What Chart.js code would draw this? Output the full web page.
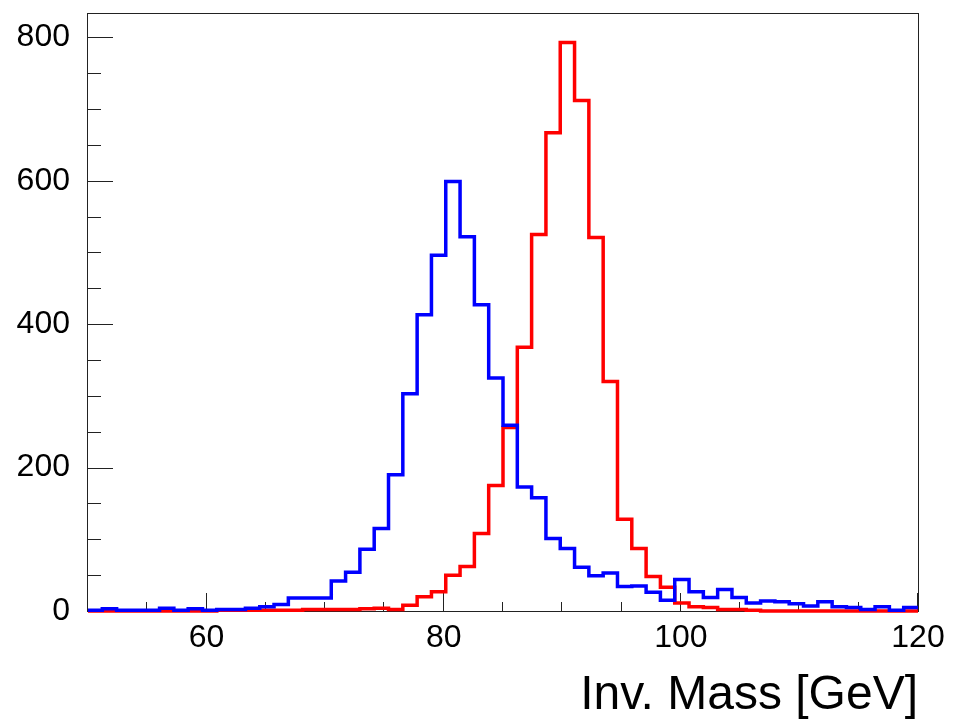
<!DOCTYPE html>
<html>
<head>
<meta charset="utf-8">
<title>Inv. Mass</title>
<script src="https://cdn.jsdelivr.net/npm/chart.js@4.4.1/dist/chart.umd.min.js"></script>
<style>
  html, body { margin: 0; padding: 0; background: #fff; }
  canvas { display: block; }
</style>
</head>
<body>
<canvas id="massChart" width="961" height="725"></canvas>
<script>
// Invariant mass histograms, 58 bins between 50 and 120 GeV.
const X_MIN = 50;
const X_MAX = 120;
const Y_MAX = 834;

// counts per bin (low edge first)
const blueCounts = [
  1, 3, 1, 1, 1, 4, 1, 3, 1, 2,
  2, 4, 6, 9, 18, 18, 18, 42, 54, 86,
  115, 190, 303, 413, 496, 599, 522, 427, 325, 259,
  173, 158, 101, 87, 61, 49, 53, 34, 35, 26,
  15, 44, 27, 19, 30, 19, 11, 14, 13, 10,
  7, 13, 6, 5, 2, 6, 1, 5
];
const redCounts = [
  0, 0, 0, 0, 0, 0, 0, 0, 0, 1,
  1, 1, 1, 1, 1, 2, 2, 2, 2, 3,
  4, 2, 8, 20, 27, 50, 62, 108, 175, 256,
  368, 525, 667, 793, 712, 521, 320, 128, 87, 48,
  33, 11, 6, 5, 2, 2, 1, 0, 0, 0,
  0, 0, 0, 0, 0, 0, 0, 0
];

const xMajorTicks = [60, 80, 100, 120];
const yMajorTicks = [0, 200, 400, 600, 800];
const X_MINOR = 5;
const Y_MINOR = 50;

const FONT = "'Liberation Sans', Arial, Helvetica, sans-serif";

// step points: one at each bin's low edge, plus the closing edge
function histPoints(counts) {
  const w = (X_MAX - X_MIN) / counts.length;
  const pts = counts.map((c, i) => ({ x: X_MIN + i * w, y: c }));
  pts.push({ x: X_MAX, y: counts[counts.length - 1] });
  return pts;
}

// ROOT style frame with ticks pointing inwards
const rootFrame = {
  id: "rootFrame",
  beforeDatasetsDraw(chart) {
    const { ctx, chartArea: a, scales: { x, y } } = chart;
    ctx.save();
    ctx.strokeStyle = "#222";
    ctx.lineWidth = 1;
    ctx.strokeRect(Math.round(a.left) - 0.5, Math.round(a.top) + 0.5,
      Math.round(a.right - a.left) + 1, Math.round(a.bottom - a.top));
    ctx.beginPath();
    for (let v = X_MIN; v <= X_MAX; v += X_MINOR) {
      const px = Math.round(x.getPixelForValue(v)) - 0.5;
      const len = xMajorTicks.includes(v) ? 18 : 9;
      ctx.moveTo(px, a.bottom);
      ctx.lineTo(px, a.bottom - len);
    }
    for (let v = 0; v <= Y_MAX; v += Y_MINOR) {
      const py = Math.round(y.getPixelForValue(v)) + 0.5;
      const len = yMajorTicks.includes(v) ? 25 : 13;
      ctx.moveTo(a.left, py);
      ctx.lineTo(a.left + len, py);
    }
    ctx.stroke();
    ctx.restore();
  },
};

new Chart(document.getElementById("massChart"), {
  type: "line",
  data: {
    datasets: [
      {
        label: "blue",
        data: histPoints(blueCounts),
        borderColor: "#0000ff",
        borderWidth: 3.5,
        stepped: "before",
        pointRadius: 0,
        fill: false,
        clip: false,
        order: 0,
      },
      {
        label: "red",
        data: histPoints(redCounts),
        borderColor: "#ff0000",
        borderWidth: 3.5,
        stepped: "before",
        pointRadius: 0,
        fill: false,
        clip: false,
        order: 1,
      },
    ],
  },
  options: {
    responsive: false,
    animation: false,
    devicePixelRatio: 1,
    layout: { padding: { left: 0, right: 43, top: 13, bottom: 0 } },
    plugins: {
      legend: { display: false },
      tooltip: { enabled: false },
    },
    scales: {
      x: {
        type: "linear",
        min: X_MIN,
        max: X_MAX,
        grid: { display: false, drawTicks: false },
        border: { display: false },
        ticks: {
          stepSize: X_MINOR,
          includeBounds: false,
          autoSkip: false,
          maxRotation: 0,
          padding: 8,
          color: "#000",
          font: { family: FONT, size: 32 },
          callback: (v) => (xMajorTicks.includes(v) ? String(v) : ""),
        },
        title: {
          display: true,
          text: "Inv. Mass [GeV]",
          align: "end",
          color: "#000",
          font: { family: FONT, size: 48 },
          padding: { top: 0, bottom: 0 },
        },
        afterFit(scale) {
          scale.height = 114;
          scale.paddingLeft = 0;
          scale.paddingRight = 0;
        },
      },
      y: {
        type: "linear",
        min: 0,
        max: Y_MAX,
        grid: { display: false, drawTicks: false },
        border: { display: false },
        ticks: {
          stepSize: Y_MINOR,
          includeBounds: false,
          autoSkip: false,
          padding: 18,
          color: "#000",
          font: { family: FONT, size: 32 },
          callback: (v) => (yMajorTicks.includes(v) ? String(v) : ""),
        },
        afterFit(scale) {
          scale.width = 88;
          scale.paddingTop = 0;
          scale.paddingBottom = 0;
        },
      },
    },
  },
  plugins: [rootFrame],
});
</script>
</body>
</html>
